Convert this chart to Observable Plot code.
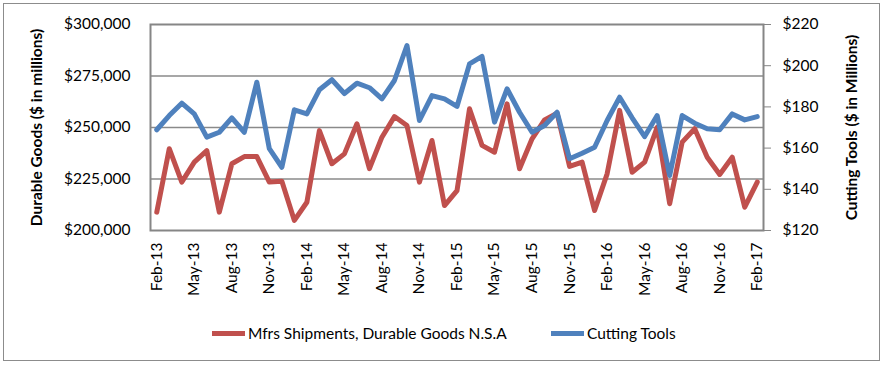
<!DOCTYPE html>
<html><head><meta charset="utf-8">
<script src="https://cdn.jsdelivr.net/npm/d3@7"></script>
<script src="https://cdn.jsdelivr.net/npm/@observablehq/plot@0.6"></script>
<style>
body{margin:0;background:#fff;font-family:Lato,"Open Sans",sans-serif;}
#wrap{position:relative;width:884px;height:366px;overflow:hidden;}
#border{position:absolute;left:3px;top:3px;width:875px;height:356px;border:1.5px solid #8c8c8c;}
#chart{position:absolute;left:0;top:0;}
#chart svg{font-family:Lato,"Open Sans",sans-serif;}
[aria-label="y-axis label"] text{font-weight:bold;}
#legend{position:absolute;top:324px;left:0;width:884px;font-size:15.5px;color:#000;}
.item{position:absolute;top:0;white-space:nowrap;display:flex;align-items:center;}
.sw{display:inline-block;width:33px;height:5px;margin-right:3px;}
</style>
</head><body>
<div id="wrap"><div id="border"></div><div id="chart"></div>
<div id="legend">
<div class="item" style="left:212px"><span class="sw" style="background:#C0504D"></span>Mfrs Shipments, Durable Goods N.S.A</div>
<div class="item" style="left:551px"><span class="sw" style="background:#4F81BD"></span>Cutting Tools</div>
</div></div>
<script>
const months = ["Feb-13","Mar-13","Apr-13","May-13","Jun-13","Jul-13","Aug-13","Sep-13","Oct-13","Nov-13","Dec-13","Jan-14",
"Feb-14","Mar-14","Apr-14","May-14","Jun-14","Jul-14","Aug-14","Sep-14","Oct-14","Nov-14","Dec-14","Jan-15",
"Feb-15","Mar-15","Apr-15","May-15","Jun-15","Jul-15","Aug-15","Sep-15","Oct-15","Nov-15","Dec-15","Jan-16",
"Feb-16","Mar-16","Apr-16","May-16","Jun-16","Jul-16","Aug-16","Sep-16","Oct-16","Nov-16","Dec-16","Jan-17","Feb-17"];
const durableGoods = [208900,239700,223500,233200,238800,208900,232400,235900,235900,223500,223900,204900,
213700,248500,232400,237200,251800,230000,245300,255300,251000,223500,243700,212100,
219400,259100,241300,238000,261500,230000,244500,253700,256900,231100,233200,209700,
227500,258300,228300,233200,250100,213000,242900,249400,235600,227200,235600,211300,223500];
const cuttingTools = [168.9,175.8,181.8,176.6,165.3,167.7,174.7,167.7,192.0,159.7,150.7,178.6,
176.6,188.3,193.2,186.5,191.5,189.3,183.9,192.8,209.8,173.4,185.5,183.9,
180.2,200.9,204.5,172.6,188.8,177.4,167.7,171.0,177.4,154.8,157.5,160.4,
173.4,184.7,174.7,165.6,175.8,146.7,175.8,172.1,169.4,168.9,176.6,173.7,175.3];
const leftTicks = [200000,225000,250000,275000,300000];
const rightTicks = [120,140,160,180,200,220];
const xTickLabels = ["Feb-13","May-13","Aug-13","Nov-13","Feb-14","May-14","Aug-14","Nov-14","Feb-15","May-15","Aug-15","Nov-15","Feb-16","May-16","Aug-16","Nov-16","Feb-17"];

const toLeft = v => 200000 + (v - 120) * 1000;
const fromLeft = v => Math.round((v - 200000) / 1000 + 120);
const data = months.map((m, i) => ({i, m, dg: durableGoods[i], ct: toLeft(cuttingTools[i])}));
const xTicks = xTickLabels.map(l => months.indexOf(l));
const fmt = d3.format(",");

const chart = Plot.plot({
  width: 884, height: 318,
  marginLeft: 150, marginRight: 121, marginTop: 24, marginBottom: 88,
  x: {type: "linear", domain: [-0.5, 48.5]},
  y: {domain: [200000, 300000]},
  marks: [
    Plot.gridY([225000, 250000, 275000], {stroke: "#8a8a8a", strokeOpacity: 1, strokeWidth: 1.3}),
    Plot.lineY(data, {x: "i", y: "dg", stroke: "#C0504D", strokeWidth: 5, strokeLinejoin: "round"}),
    Plot.lineY(data, {x: "i", y: "ct", stroke: "#4F81BD", strokeWidth: 5, strokeLinejoin: "round"}),
    Plot.frame({stroke: "#868686", strokeWidth: 2}),
    Plot.axisY(leftTicks, {anchor: "left", tickSize: 0, tickPadding: 20, fontSize: 15.5,
      tickFormat: d => "$" + fmt(d), label: "Durable Goods ($ in millions)", labelAnchor: "center",
      labelArrow: "none", labelOffset: 120}),
    Plot.axisY(rightTicks.map(toLeft), {anchor: "right", tickSize: 7, tickPadding: 12, fontSize: 15.5,
      stroke: "#868686", tickFormat: d => "$" + fromLeft(d), label: "Cutting Tools ($ in Millions)",
      labelAnchor: "center", labelArrow: "none", labelOffset: 93}),
    Plot.axisX(xTicks, {anchor: "bottom", tickSize: 0, tickPadding: 12, tickRotate: -90, fontSize: 15.5,
      tickFormat: i => months[i], label: null})
  ]
});
document.getElementById("chart").appendChild(chart);
</script>
</body></html>
